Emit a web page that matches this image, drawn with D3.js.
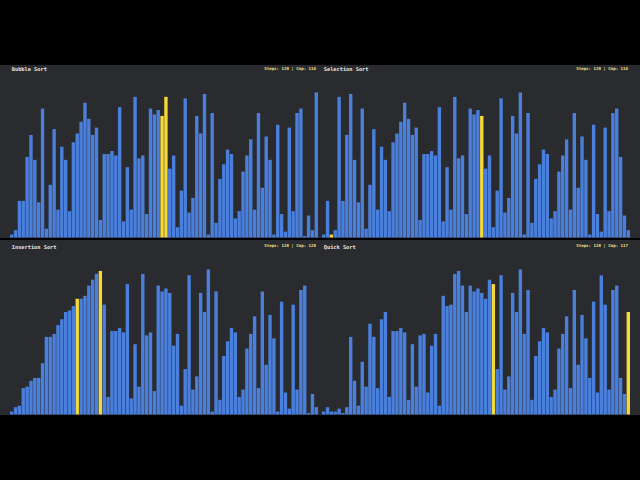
<!DOCTYPE html>
<html>
<head>
<meta charset="utf-8">
<script src="https://cdn.jsdelivr.net/npm/d3@7"></script>
<style>
  body { margin: 0; background: #000; }
  svg { display: block; }
</style>
</head>
<body>
<svg id="chart" width="640" height="480"></svg>
<script>
// snapshot of four sorts at step 120, 80 bars each (values 0-100)
var titles = ["Bubble Sort", "Selection Sort", "Insertion Sort", "Quick Sort"];
var steps = [120, 120, 120, 120];
var compares = [118, 118, 120, 117];

var bubbleVals = [2,5,25,25,55,70,53,24,88,6,36,74,19,62,53,18,65,71,79,92,
  81,70,75,12,57,57,59,56,89,11,48,19,96,54,56,16,88,84,87,83,
  96,47,56,7,32,95,17,27,83,71,98,2,85,10,40,50,60,57,13,18,
  45,56,67,19,85,34,69,53,2,77,16,4,75,18,85,88,1,15,5,99];
var selectionVals = [2,25,2,5,96,25,70,98,53,24,88,6,36,74,19,62,53,18,65,71,
  79,92,81,70,75,12,57,57,59,56,89,11,48,19,96,54,56,16,88,84,
  87,83,47,56,7,32,95,17,27,83,71,99,2,85,10,40,50,60,57,13,
  18,45,56,67,19,85,34,69,53,2,77,16,4,75,18,85,88,55,15,5];
var insertionVals = [2,5,6,18,19,23,25,25,35,53,53,55,61,65,70,71,74,79,79,81,
  88,92,96,98,75,12,57,57,59,56,89,11,48,19,96,54,56,16,88,84,
  86,83,47,55,6,31,95,17,26,83,70,99,2,84,10,40,50,59,56,12,
  17,45,55,67,18,84,34,68,52,2,77,15,4,75,17,85,88,1,14,5];
var quickVals = [2,5,2,2,4,1,5,53,23,6,36,19,62,53,18,65,70,12,57,57,
  59,56,10,48,19,54,55,15,47,55,6,81,74,75,96,98,88,70,88,84,
  86,83,79,92,89,31,95,17,26,83,70,99,55,85,10,40,50,59,56,12,
  17,45,55,67,18,85,34,68,52,25,77,15,95,75,17,85,88,25,14,70];

// highlighted (yellow) bar indices per panel
var bubbleHi = [39, 40];
var selectionHi = [2, 41];
var insertionHi = [17, 23];
var quickHi = [44, 79];

var panels = [
  { vals: bubbleVals, hi: bubbleHi },
  { vals: selectionVals, hi: selectionHi },
  { vals: insertionVals, hi: insertionHi },
  { vals: quickVals, hi: quickHi }
];

var svg = d3.select("#chart");
var colLeft = [10, 322];      // bar area left edge per column
var barAreaW = 308;
var rowTop = [65, 240];
var rowH = [173, 175];
var baseY = [237.5, 414.5];
var maxH = 146.5;

svg.append("rect").attr("width", 640).attr("height", 480).attr("fill", "#000");

panels.forEach(function(p, k) {
  var col = k % 2, row = Math.floor(k / 2);
  var g = svg.append("g");

  var px = col === 0 ? 0 : 320;
  g.append("rect")
    .attr("x", px).attr("y", rowTop[row])
    .attr("width", 320).attr("height", rowH[row])
    .attr("fill", "#2a2b2e");

  var x = d3.scaleBand()
    .domain(d3.range(p.vals.length))
    .range([colLeft[col], colLeft[col] + barAreaW])
    .paddingInner(0.12).paddingOuter(0);
  var y = d3.scaleLinear().domain([0, 100]).range([baseY[row], baseY[row] - maxH]);

  g.selectAll("rect.bar")
    .data(p.vals)
    .enter().append("rect")
    .attr("class", "bar")
    .attr("x", function(d, i) { return x(i); })
    .attr("y", function(d) { return y(d); })
    .attr("width", x.bandwidth())
    .attr("height", function(d) { return y(0) - y(d); })
    .attr("fill", function(d, i) { return p.hi.indexOf(i) >= 0 ? "#f5d83c" : "#4a7fdc"; });

  g.append("text")
    .attr("x", colLeft[col] + 1.8)
    .attr("y", row === 0 ? 71 : 248.7)
    .attr("fill", "#e6e6e6")
    .style("font-family", "'DejaVu Sans Mono', monospace")
    .style("font-weight", "bold")
    .style("font-size", "5.3px")
    .text(titles[k]);

  g.append("text")
    .attr("x", colLeft[col] + barAreaW - 2)
    .attr("y", row === 0 ? 70 : 247.3)
    .attr("text-anchor", "end")
    .attr("fill", "#ece08c")
    .style("font-family", "'DejaVu Sans Mono', monospace")
    .style("font-weight", "bold")
    .style("font-size", "4.1px")
    .text("Steps: " + steps[k] + " | Cmp: " + compares[k]);
});
</script>
</body>
</html>
